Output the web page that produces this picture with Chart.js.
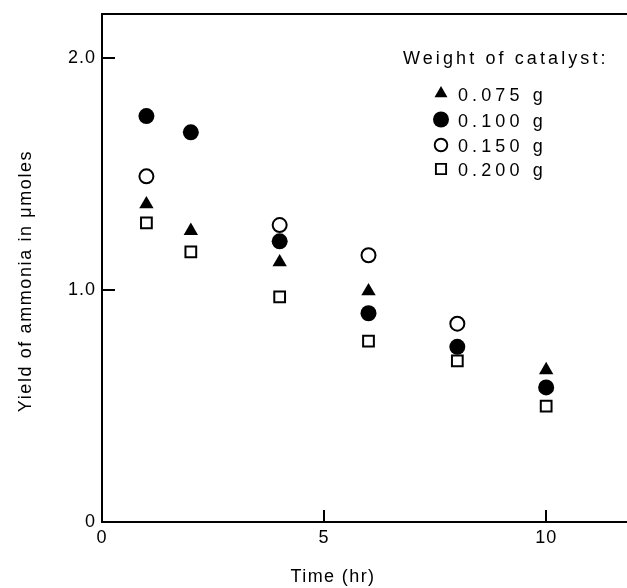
<!DOCTYPE html>
<html><head><meta charset="utf-8">
<script src="https://cdn.jsdelivr.net/npm/chart.js@4.4.1/dist/chart.umd.min.js"></script>
<style>html,body{margin:0;padding:0;background:#fff;}</style>
</head><body>
<canvas id="c" width="627" height="588"></canvas>
<script>
const times = [1, 2, 4, 6, 8, 10];
const w075 = [1.37, 1.255, 1.12, 0.995, null, 0.655];
const w100 = [1.75, 1.68, 1.21, 0.90, 0.755, 0.58];
const w150 = [1.49, null, 1.28, 1.15, 0.855, null];
const w200 = [1.29, 1.165, 0.97, 0.78, 0.695, 0.50];
const seriesLabels = ['0.075 g', '0.100 g', '0.150 g', '0.200 g'];
const legendTitle = 'Weight of catalyst:';
const xTicks = [0, 5, 10];
const xTickLabels = ['0', '5', '10'];
const yTicks = [0, 1, 2];
const yTickLabels = ['0', '1.0', '2.0'];
const xTitle = 'Time (hr)';
const yTitle = 'Yield of ammonia in \u03bcmoles';

const FONT = '"Liberation Sans", Arial, sans-serif';
const toPts = vals => times.map((t, i) => ({x: t, y: vals[i]})).filter(p => p.y !== null);

const styles = [
  {pointStyle: 'triangle', radius: 8.3, borderWidth: 0, bg: '#000', border: '#000', legendRadius: 7.5},
  {pointStyle: 'circle', radius: 8, borderWidth: 0, bg: '#000', border: '#000', legendRadius: 8},
  {pointStyle: 'circle', radius: 7, borderWidth: 2, bg: 'rgba(255,255,255,0)', border: '#000', legendRadius: 6.3},
  {pointStyle: 'rect', radius: 7.6, borderWidth: 2, bg: 'rgba(255,255,255,0)', border: '#000', legendRadius: 7.2}
];
const seriesData = [w075, w100, w150, w200];

const datasets = seriesData.map((vals, i) => ({
  label: seriesLabels[i],
  data: toPts(vals),
  pointStyle: styles[i].pointStyle,
  pointRadius: styles[i].radius,
  pointHoverRadius: styles[i].radius,
  pointBorderWidth: styles[i].borderWidth,
  pointBackgroundColor: styles[i].bg,
  pointBorderColor: styles[i].border,
  showLine: false
}));

function drawMarker(ctx, st, x, y, r) {
  ctx.save();
  ctx.fillStyle = st.bg;
  ctx.strokeStyle = st.border;
  ctx.lineWidth = st.borderWidth ? 1.9 : 0;
  ctx.beginPath();
  if (st.pointStyle === 'circle') {
    ctx.arc(x, y, r, 0, Math.PI * 2);
  } else if (st.pointStyle === 'triangle') {
    ctx.moveTo(x, y - r);
    ctx.lineTo(x + r * Math.sin(Math.PI * 2 / 3), y - r * Math.cos(Math.PI * 2 / 3));
    ctx.lineTo(x + r * Math.sin(Math.PI * 4 / 3), y - r * Math.cos(Math.PI * 4 / 3));
  } else {
    const s = r * Math.SQRT1_2;
    ctx.rect(x - s, y - s, 2 * s, 2 * s);
  }
  ctx.closePath();
  ctx.fill();
  if (st.borderWidth) ctx.stroke();
  ctx.restore();
}

const decor = {
  id: 'decor',
  beforeDraw(chart) {
    chart.ctx.letterSpacing = '1px';
  },
  afterDraw(chart) {
    const ctx = chart.ctx;
    const a = chart.chartArea;
    const xs = chart.scales.x, ys = chart.scales.y;
    ctx.save();
    ctx.strokeStyle = '#000';
    ctx.lineWidth = 2;
    ctx.beginPath();
    ctx.moveTo(a.left - 1, a.top);
    ctx.lineTo(a.right, a.top);
    ctx.stroke();
    xs.ticks.forEach(t => {
      if (t.value === 0) return;
      const px = Math.round(xs.getPixelForValue(t.value));
      ctx.beginPath();
      ctx.moveTo(px, a.bottom);
      ctx.lineTo(px, a.bottom - 12);
      ctx.stroke();
    });
    ys.ticks.forEach(t => {
      if (t.value === 0) return;
      const py = Math.round(ys.getPixelForValue(t.value));
      ctx.beginPath();
      ctx.moveTo(a.left, py);
      ctx.lineTo(a.left + 13, py);
      ctx.stroke();
    });
    ctx.fillStyle = '#000';
    ctx.font = '18px ' + FONT;
    ctx.letterSpacing = '1.4px';
    ctx.textAlign = 'center';
    ctx.textBaseline = 'middle';
    ctx.fillText(xTitle, 333, 577);
    ctx.save();
    ctx.translate(26, 281);
    ctx.rotate(-Math.PI / 2);
    ctx.letterSpacing = '1.6px';
    ctx.fillText(yTitle, 0, 0);
    ctx.restore();
    ctx.textAlign = 'left';
    ctx.textBaseline = 'alphabetic';
    ctx.letterSpacing = '3.1px';
    ctx.fillText(legendTitle, 403, 64);
    ctx.letterSpacing = '4.1px';
    const rowY = [93.5, 119.5, 145, 169];
    chart.data.datasets.forEach((ds, i) => {
      drawMarker(ctx, styles[i], 441, rowY[i], styles[i].legendRadius);
      ctx.fillText(ds.label, 458, rowY[i] + 7);
    });
    ctx.restore();
  }
};

new Chart(document.getElementById('c'), {
  type: 'scatter',
  data: {datasets},
  options: {
    responsive: false,
    devicePixelRatio: 1,
    animation: false,
    layout: {autoPadding: false, padding: {top: 14, right: 0, left: 0, bottom: 0}},
    plugins: {legend: {display: false}, tooltip: {enabled: false}},
    scales: {
      x: {
        type: 'linear', min: 0, max: 11.82,
        afterBuildTicks: s => { s.ticks = xTicks.map(v => ({value: v})); },
        afterFit: s => { s.height = 66; s.paddingLeft = 0; s.paddingRight = 0; },
        ticks: {
          callback: v => xTickLabels[xTicks.indexOf(v)],
          color: '#000', font: {family: FONT, size: 18}, padding: 5,
          maxRotation: 0, autoSkip: false
        },
        grid: {display: true, drawOnChartArea: false, drawTicks: false},
        border: {display: true, color: '#000', width: 2},
        title: {display: false}
      },
      y: {
        type: 'linear', min: 0, max: 2.19,
        afterBuildTicks: s => { s.ticks = yTicks.map(v => ({value: v})); },
        afterFit: s => { s.width = 102; s.paddingTop = 0; s.paddingBottom = 0; },
        ticks: {
          callback: v => yTickLabels[yTicks.indexOf(v)],
          color: '#000', font: {family: FONT, size: 18}, padding: 6,
          autoSkip: false
        },
        grid: {display: true, drawOnChartArea: false, drawTicks: false},
        border: {display: true, color: '#000', width: 2},
        title: {display: false}
      }
    }
  },
  plugins: [decor]
});
</script>
</body></html>
